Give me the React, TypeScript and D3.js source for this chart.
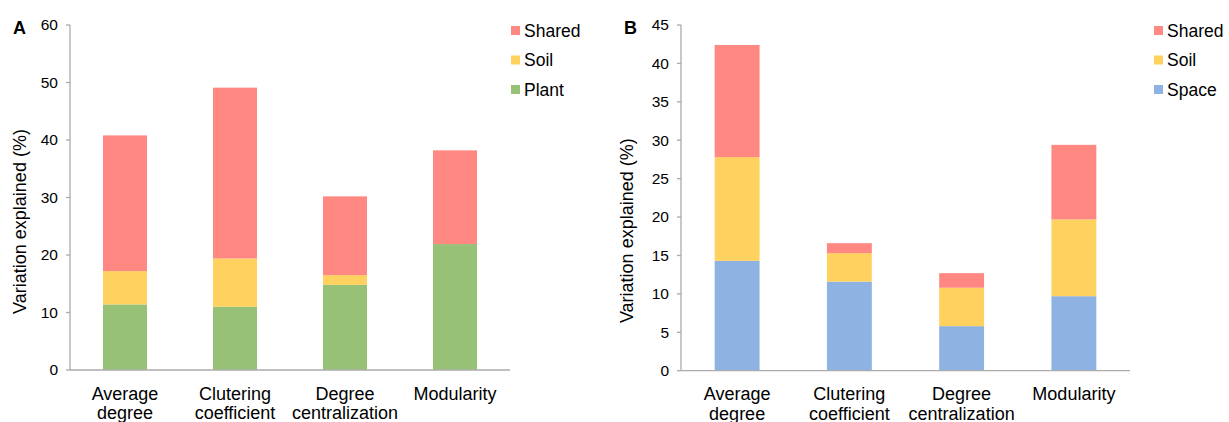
import React from "react";
import * as d3 from "d3";

const categories = ["Average degree", "Clutering coefficient", "Degree centralization", "Modularity"];
const categoryLines = [["Average", "degree"], ["Clutering", "coefficient"], ["Degree", "centralization"], ["Modularity"]];

// Panel A
const plantA = [11.4, 11.0, 14.8, 21.9];
const soilA = [5.8, 8.4, 1.7, 0];
const sharedA = [23.6, 29.7, 13.7, 16.3];
const ticksA = [0, 10, 20, 30, 40, 50, 60];

// Panel B
const spaceB = [14.3, 11.6, 5.8, 9.7];
const soilB = [13.5, 3.7, 5.0, 10.0];
const sharedB = [14.6, 1.3, 1.9, 9.7];
const ticksB = [0, 5, 10, 15, 20, 25, 30, 35, 40, 45];

const COLORS: Record<string, string> = {
  Shared: "#FF8882",
  Soil: "#FFD15F",
  Plant: "#96C177",
  Space: "#8EB3E2",
};

const FONT = "'Liberation Sans', Arial, Helvetica, sans-serif";
const AXIS = "#ABABAB";

type PanelProps = {
  letter: string;
  series: { name: string; values: number[] }[];
  yMax: number;
  ticks: number[];
  x0: number;
  x1: number;
  y0: number;
  y1: number;
  titleX: number;
  titleY: number;
  legendX: number;
};

function Panel({ letter, series, yMax, ticks, x0, x1, y0, y1, titleX, titleY, legendX }: PanelProps) {
  const x = d3.scaleBand<string>().domain(categories).range([x0, x1]).paddingInner(0.6).paddingOuter(0.3);
  const y = d3.scaleLinear().domain([0, yMax]).range([y0, y1]);
  const keys = series.map((s) => s.name);
  const rows = categories.map((c, i) => {
    const r: Record<string, number | string> = { cat: c };
    series.forEach((s) => (r[s.name] = s.values[i]));
    return r;
  });
  const stacked = d3.stack<Record<string, number | string>>().keys(keys)(rows as any);
  const legendOrder = [...keys].reverse();

  return (
    <g>
      <text x={x0 - 57} y={y1 + 9} fontFamily={FONT} fontWeight="bold" fontSize={18} fill="#000">
        {letter}
      </text>
      {stacked.map((layer) => (
        <g key={layer.key}>
          {layer.map((d, i) => (
            <rect
              key={i}
              x={x(categories[i])}
              width={x.bandwidth()}
              y={y(d[1])}
              height={Math.max(0, y(d[0]) - y(d[1]))}
              fill={COLORS[layer.key]}
            />
          ))}
        </g>
      ))}
      <line x1={x0} x2={x0} y1={y1} y2={y0} stroke={AXIS} strokeWidth={1.3} />
      <line x1={x0} x2={x1} y1={y0} y2={y0} stroke={AXIS} strokeWidth={1.3} />
      {ticks.map((t) => (
        <g key={t}>
          <line x1={x0 - 4} x2={x0} y1={y(t)} y2={y(t)} stroke={AXIS} strokeWidth={1.3} />
          <text x={x0 - 12} y={y(t)} dy="0.35em" textAnchor="end" fontFamily={FONT} fontSize={15.5} fill="#000">
            {t}
          </text>
        </g>
      ))}
      {categoryLines.map((lines, i) => (
        <text
          key={i}
          textAnchor="middle"
          fontFamily={FONT}
          fontSize={18}
          fill="#000"
        >
          {lines.map((ln, j) => (
            <tspan key={j} x={(x(categories[i]) as number) + x.bandwidth() / 2} y={y0 + 29.5 + j * 19.5}>
              {ln}
            </tspan>
          ))}
        </text>
      ))}
      <text
        transform={`translate(${titleX},${titleY}) rotate(-90)`}
        textAnchor="middle"
        fontFamily={FONT}
        fontSize={18}
        fill="#000"
      >
        Variation explained (%)
      </text>
      {legendOrder.map((k, i) => (
        <g key={k} transform={`translate(${legendX},${30.5 + i * 29.5})`}>
          <rect x={0} y={-4.5} width={9} height={9} fill={COLORS[k]} />
          <text x={13} y={0} dy="0.36em" fontFamily={FONT} fontSize={17.5} fill="#000">
            {k}
          </text>
        </g>
      ))}
    </g>
  );
}

export default function App() {
  return (
    <svg
      width={1229}
      height={422}
      style={{ position: "absolute", left: 0, top: 0, background: "#fff" }}
    >
      <rect width={1229} height={422} fill="#fff" />
      <Panel
        letter="A"
        series={[
          { name: "Plant", values: plantA },
          { name: "Soil", values: soilA },
          { name: "Shared", values: sharedA },
        ]}
        yMax={60}
        ticks={ticksA}
        x0={70}
        x1={510}
        y0={370}
        y1={25}
        titleX={26}
        titleY={221.5}
        legendX={511}
      />
      <Panel
        letter="B"
        series={[
          { name: "Space", values: spaceB },
          { name: "Soil", values: soilB },
          { name: "Shared", values: sharedB },
        ]}
        yMax={45}
        ticks={ticksB}
        x0={681}
        x1={1130}
        y0={370.7}
        y1={25}
        titleX={633}
        titleY={230.7}
        legendX={1154}
      />
    </svg>
  );
}
